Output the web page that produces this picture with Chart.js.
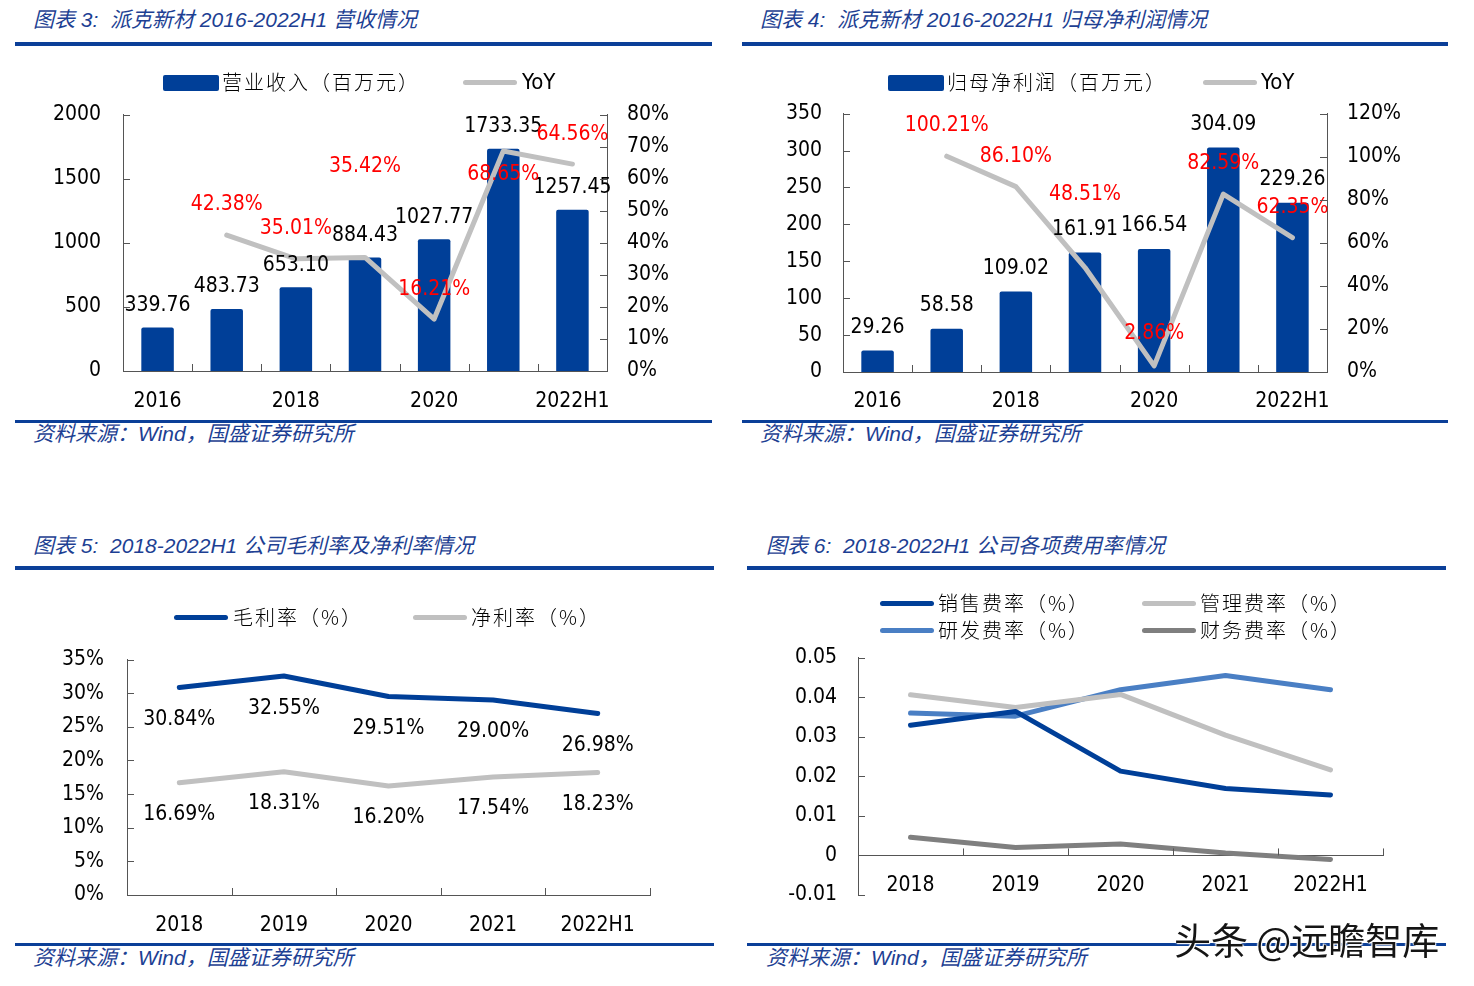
<!DOCTYPE html>
<html><head><meta charset="utf-8">
<script src="https://cdn.jsdelivr.net/npm/chart.js@4.4.0/dist/chart.umd.min.js"></script>
<style>
html,body{margin:0;padding:0;background:#fff;}
body{width:1474px;height:986px;position:relative;overflow:hidden;font-family:"Liberation Sans","Noto Sans CJK SC",sans-serif;}
.title,.src{position:absolute;font-size:21px;font-style:italic;color:#1d3f93;white-space:nowrap;line-height:24px;}
.rule{position:absolute;background:#0b3f98;}
.leg{position:absolute;font-size:20px;color:#000;white-space:nowrap;line-height:24px;font-family:"Noto Sans CJK SC",sans-serif;font-weight:300;letter-spacing:2px;z-index:2;}
.yoy{font-family:"DejaVu Sans Condensed","Liberation Sans",sans-serif;font-size:22px;font-weight:normal;letter-spacing:0;}
.sw{position:absolute;z-index:2;}
canvas{position:absolute;z-index:1;}
.wm{position:absolute;left:1174px;top:916px;font-size:37px;line-height:46px;color:#151515;font-family:"Noto Sans CJK SC",sans-serif;white-space:nowrap;z-index:5;
text-shadow:0 0 2px #fff,0 0 2px #fff,1px 1px 1px #fff,-1px -1px 1px #fff;}
</style></head>
<body>
<!-- panel 1 -->
<div class="title" style="left:33px;top:8px">图表 3:&nbsp;&nbsp;派克新材 2016-2022H1 营收情况</div>
<div class="rule" style="left:15px;top:42px;width:697px;height:4px"></div>
<div class="sw" style="left:163px;top:75px;width:56px;height:16px;background:#003f98;border-radius:2px"></div>
<div class="leg" style="left:222px;top:70px">营业收入（百万元）</div>
<div class="sw" style="left:463px;top:80px;width:54px;height:5px;background:#c0c0c0;border-radius:3px"></div>
<div class="leg yoy" style="left:522px;top:70px">YoY</div>
<div class="rule" style="left:15px;top:420px;width:697px;height:3px"></div>
<div class="src" style="left:33px;top:422px">资料来源：Wind，国盛证券研究所</div>
<canvas id="c1" width="700" height="340" style="left:15px;top:80px"></canvas>

<!-- panel 2 -->
<div class="title" style="left:760px;top:8px">图表 4:&nbsp;&nbsp;派克新材 2016-2022H1 归母净利润情况</div>
<div class="rule" style="left:742px;top:42px;width:706px;height:4px"></div>
<div class="sw" style="left:888px;top:75px;width:56px;height:16px;background:#003f98;border-radius:2px"></div>
<div class="leg" style="left:947px;top:70px">归母净利润（百万元）</div>
<div class="sw" style="left:1203px;top:80px;width:54px;height:5px;background:#c0c0c0;border-radius:3px"></div>
<div class="leg yoy" style="left:1261px;top:70px">YoY</div>
<div class="rule" style="left:742px;top:420px;width:706px;height:3px"></div>
<div class="src" style="left:760px;top:422px">资料来源：Wind，国盛证券研究所</div>
<canvas id="c2" width="700" height="340" style="left:735px;top:80px"></canvas>

<!-- panel 3 -->
<div class="title" style="left:33px;top:534px">图表 5:&nbsp;&nbsp;2018-2022H1 公司毛利率及净利率情况</div>
<div class="rule" style="left:15px;top:566px;width:699px;height:4px"></div>
<div class="sw" style="left:174px;top:615px;width:54px;height:5px;background:#003f98;border-radius:3px"></div>
<div class="leg" style="left:233px;top:605px">毛利率（%）</div>
<div class="sw" style="left:413px;top:615px;width:54px;height:5px;background:#c0c0c0;border-radius:3px"></div>
<div class="leg" style="left:471px;top:605px">净利率（%）</div>
<div class="rule" style="left:15px;top:943px;width:699px;height:3px"></div>
<div class="src" style="left:33px;top:946px">资料来源：Wind，国盛证券研究所</div>
<canvas id="c3" width="700" height="330" style="left:15px;top:624px"></canvas>

<!-- panel 4 -->
<div class="title" style="left:766px;top:534px">图表 6:&nbsp;&nbsp;2018-2022H1 公司各项费用率情况</div>
<div class="rule" style="left:747px;top:566px;width:699px;height:4px"></div>
<div class="sw" style="left:880px;top:601px;width:54px;height:5px;background:#003f98;border-radius:3px"></div>
<div class="leg" style="left:938px;top:591px">销售费率（%）</div>
<div class="sw" style="left:1142px;top:601px;width:54px;height:5px;background:#c0c0c0;border-radius:3px"></div>
<div class="leg" style="left:1200px;top:591px">管理费率（%）</div>
<div class="sw" style="left:880px;top:628px;width:54px;height:5px;background:#4a7fc4;border-radius:3px"></div>
<div class="leg" style="left:938px;top:618px">研发费率（%）</div>
<div class="sw" style="left:1142px;top:628px;width:54px;height:5px;background:#7f7f7f;border-radius:3px"></div>
<div class="leg" style="left:1200px;top:618px">财务费率（%）</div>
<div class="rule" style="left:747px;top:943px;width:699px;height:3px"></div>
<div class="src" style="left:766px;top:946px">资料来源：Wind，国盛证券研究所</div>
<canvas id="c4" width="700" height="330" style="left:745px;top:624px"></canvas>

<div class="wm">头条 @远瞻智库</div>

<script>
// ---------- data ----------
const years7 = ['2016', '2017', '2018', '2019', '2020', '2021', '2022H1'];
const years7TickLabels = ['2016', '', '2018', '', '2020', '', '2022H1'];
const revenue = [339.76, 483.73, 653.10, 884.43, 1027.77, 1733.35, 1257.45];
const revenueYoY = [null, 42.38, 35.01, 35.42, 16.21, 68.65, 64.56];
const netProfit = [29.26, 58.58, 109.02, 161.91, 166.54, 304.09, 229.26];
const netProfitYoY = [null, 100.21, 86.10, 48.51, 2.86, 82.59, 62.35];

const years5 = ['2018', '2019', '2020', '2021', '2022H1'];
const grossMargin = [30.84, 32.55, 29.51, 29.00, 26.98];
const netMargin = [16.69, 18.31, 16.20, 17.54, 18.23];

const sellingRate = [0.0329, 0.0364, 0.0213, 0.0169, 0.0153];
const adminRate = [0.0406, 0.0374, 0.0407, 0.0304, 0.0216];
const rdRate = [0.0360, 0.0352, 0.0419, 0.0455, 0.0419];
const financeRate = [0.0046, 0.0020, 0.0029, 0.0006, -0.0010];

// label placement (pixel offsets from the mark)
const revYoYLabelDy = [0, -31, -30, -91, -30, 24, -30];
const npYoYLabelDy = [0, -31, -30, -73, -32, -31, -30];

// ---------- style ----------
const BLUE = '#003f98', GRAY = '#c0c0c0', MIDBLUE = '#4a7fc4', DKGRAY = '#7f7f7f', AXIS = '#555555', RED = '#ff0000';
const NUMFONT = "'DejaVu Sans Condensed','Liberation Sans',sans-serif";
Chart.defaults.font.family = NUMFONT;
Chart.defaults.font.size = 21;
Chart.defaults.color = '#000';

function labelPlugin(items) {
  return {
    id: 'valueLabels',
    afterDatasetsDraw(chart) {
      const ctx = chart.ctx;
      ctx.save();
      ctx.font = '21px ' + NUMFONT;
      ctx.textAlign = 'center';
      ctx.textBaseline = 'middle';
      items.forEach(it => {
        const meta = chart.getDatasetMeta(it.ds);
        const data = chart.data.datasets[it.ds].data;
        meta.data.forEach((el, i) => {
          const v = data[i];
          if (v === null || v === undefined) return;
          const dy = Array.isArray(it.dy) ? it.dy[i] : it.dy;
          ctx.fillStyle = it.color;
          ctx.fillText(it.fmt(v), el.x, el.y + dy);
        });
      });
      ctx.restore();
    }
  };
}

function tickPlugin(cfg) {
  return {
    id: 'inwardTicks',
    afterDraw(chart) {
      const ctx = chart.ctx, len = 7;
      ctx.save();
      ctx.strokeStyle = AXIS;
      ctx.lineWidth = 1;
      ctx.beginPath();
      (cfg.y || []).forEach(id => {
        const s = chart.scales[id];
        const left = s.position === 'left';
        const x = left ? s.right : s.left;
        s.ticks.forEach(t => {
          const y = Math.round(s.getPixelForValue(t.value)) + 0.5;
          ctx.moveTo(x, y);
          ctx.lineTo(x + (left ? len : -len), y);
        });
      });
      if (cfg.x) {
        const s = chart.scales[cfg.x];
        const yBase = cfg.xAt !== undefined ? chart.scales.y.getPixelForValue(cfg.xAt) : chart.chartArea.bottom;
        const half = (s.getPixelForValue(1) - s.getPixelForValue(0)) / 2;
        for (let i = 0; i < s.ticks.length; i++) {
          const x = Math.round(s.getPixelForValue(i) + half) + 0.5;
          ctx.moveTo(x, yBase);
          ctx.lineTo(x, yBase - len);
        }
      }
      ctx.stroke();
      ctx.restore();
    }
  };
}

function yAxis(pos, min, max, step, width, pad, fmt) {
  return {
    position: pos, min: min, max: max,
    ticks: { stepSize: step, padding: pad, color: '#000', callback: fmt },
    grid: { display: false, drawTicks: false },
    border: { display: true, color: AXIS, width: 1 },
    afterFit(s) { s.width = width; }
  };
}
function xAxis(height, pad, labelsArr) {
  return {
    offset: true,
    ticks: { padding: pad, color: '#000', autoSkip: false, maxRotation: 0, callback: (v, i) => labelsArr[i] },
    grid: { display: false, drawTicks: false, offset: true },
    border: { display: true, color: AXIS, width: 1 },
    afterFit(s) { s.height = height; }
  };
}
const baseOpts = {
  responsive: false, animation: false, devicePixelRatio: 1,
  plugins: { legend: { display: false }, tooltip: { enabled: false } }
};
const pct = v => v + '%';

// ---------- chart 1 ----------
new Chart(document.getElementById('c1'), {
  type: 'bar',
  data: {
    labels: years7,
    datasets: [
      { type: 'bar', data: revenue, backgroundColor: BLUE, barPercentage: 0.47, categoryPercentage: 1, borderRadius: 2, yAxisID: 'y', order: 2 },
      { type: 'line', data: revenueYoY, borderColor: GRAY, borderWidth: 5, pointRadius: 0, yAxisID: 'y1', order: 1, borderCapStyle: 'round', borderJoinStyle: 'round' }
    ]
  },
  options: Object.assign({}, baseOpts, {
    layout: { padding: { top: 32, left: 0, right: 0, bottom: 0 } },
    scales: {
      x: xAxis(49, 18, years7TickLabels),
      y: yAxis('left', 0, 2000, 500, 108, 22),
      y1: yAxis('right', 0, 80, 10, 108, 20, pct)
    }
  }),
  plugins: [
    labelPlugin([
      { ds: 0, color: '#000', dy: -22, fmt: v => v.toFixed(2) },
      { ds: 1, color: RED, dy: revYoYLabelDy, fmt: v => v.toFixed(2) + '%' }
    ]),
    tickPlugin({ y: ['y', 'y1'], x: 'x' })
  ]
});

// ---------- chart 2 ----------
new Chart(document.getElementById('c2'), {
  type: 'bar',
  data: {
    labels: years7,
    datasets: [
      { type: 'bar', data: netProfit, backgroundColor: BLUE, barPercentage: 0.47, categoryPercentage: 1, borderRadius: 2, yAxisID: 'y', order: 2 },
      { type: 'line', data: netProfitYoY, borderColor: GRAY, borderWidth: 5, pointRadius: 0, yAxisID: 'y1', order: 1, borderCapStyle: 'round', borderJoinStyle: 'round' }
    ]
  },
  options: Object.assign({}, baseOpts, {
    layout: { padding: { top: 32, left: 0, right: 0, bottom: 0 } },
    scales: {
      x: xAxis(48, 17, years7TickLabels),
      y: yAxis('left', 0, 350, 50, 108, 21),
      y1: yAxis('right', 0, 120, 20, 108, 20, pct)
    }
  }),
  plugins: [
    labelPlugin([
      { ds: 0, color: '#000', dy: -23, fmt: v => v.toFixed(2) },
      { ds: 1, color: RED, dy: npYoYLabelDy, fmt: v => v.toFixed(2) + '%' }
    ]),
    tickPlugin({ y: ['y', 'y1'], x: 'x' })
  ]
});

// ---------- chart 3 ----------
new Chart(document.getElementById('c3'), {
  type: 'line',
  data: {
    labels: years5,
    datasets: [
      { data: grossMargin, borderColor: BLUE, borderWidth: 5, pointRadius: 0, borderCapStyle: 'round', borderJoinStyle: 'round' },
      { data: netMargin, borderColor: GRAY, borderWidth: 5, pointRadius: 0, borderCapStyle: 'round', borderJoinStyle: 'round' }
    ]
  },
  options: Object.assign({}, baseOpts, {
    layout: { padding: { top: 30, left: 0, right: 65, bottom: 0 } },
    scales: {
      x: xAxis(59, 18, years5),
      y: yAxis('left', 0, 35, 5, 112, 23, pct)
    }
  }),
  plugins: [
    labelPlugin([
      { ds: 0, color: '#000', dy: 32, fmt: v => v.toFixed(2) + '%' },
      { ds: 1, color: '#000', dy: 32, fmt: v => v.toFixed(2) + '%' }
    ]),
    tickPlugin({ y: ['y'], x: 'x' })
  ]
});

// ---------- chart 4 ----------
const x4 = xAxis(0, 18, years5);
delete x4.afterFit;
x4.position = { y: 0 };
new Chart(document.getElementById('c4'), {
  type: 'line',
  data: {
    labels: years5,
    datasets: [
      { data: sellingRate, borderColor: BLUE, borderWidth: 5, pointRadius: 0, borderCapStyle: 'round', borderJoinStyle: 'round' },
      { data: adminRate, borderColor: GRAY, borderWidth: 5, pointRadius: 0, borderCapStyle: 'round', borderJoinStyle: 'round' },
      { data: rdRate, borderColor: MIDBLUE, borderWidth: 5, pointRadius: 0, borderCapStyle: 'round', borderJoinStyle: 'round' },
      { data: financeRate, borderColor: DKGRAY, borderWidth: 5, pointRadius: 0, borderCapStyle: 'round', borderJoinStyle: 'round' }
    ]
  },
  options: Object.assign({}, baseOpts, {
    layout: { padding: { top: 29, left: 0, right: 62, bottom: 59 } },
    scales: {
      x: x4,
      y: yAxis('left', -0.01, 0.05, 0.01, 113, 21, v => String(Number(v.toFixed(2))))
    }
  }),
  plugins: [tickPlugin({ y: ['y'], x: 'x', xAt: 0 })]
});
</script>
</body></html>
